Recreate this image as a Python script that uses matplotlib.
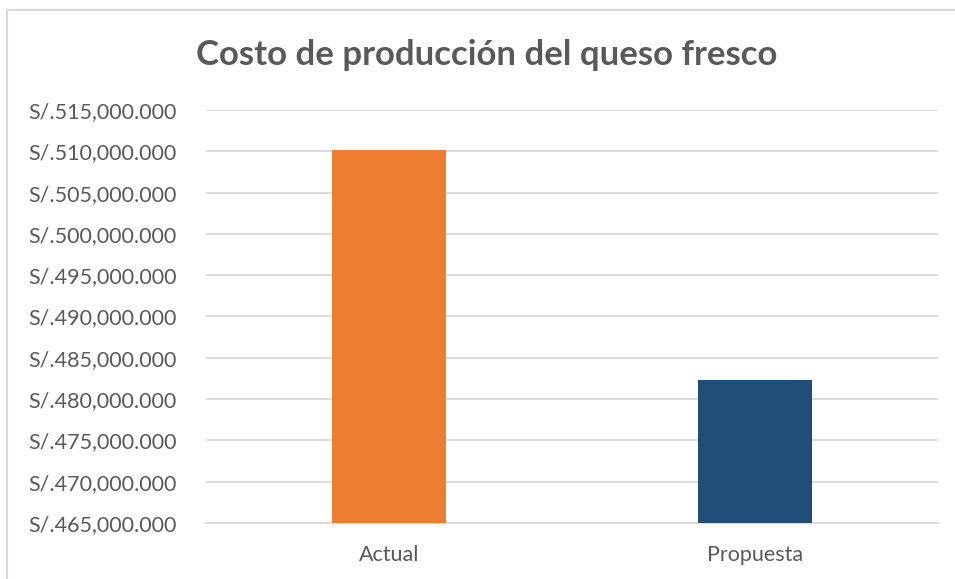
import matplotlib
matplotlib.use('Agg')
import matplotlib.pyplot as plt
from matplotlib.lines import Line2D
from matplotlib.ticker import FuncFormatter, MultipleLocator

# ---------------------------
# Data
# ---------------------------
categories = ['Actual', 'Propuesta']
costs = [510120, 482340]
bar_colors = ['#ED7D31', '#1F4E79']

y_min, y_max, y_step = 465000, 515000, 5000

plt.rcParams['font.family'] = ['Lato', 'DejaVu Sans']
text_color = '#595959'
grid_color = '#D9D9D9'

fig = plt.figure(figsize=(9.55, 5.79), dpi=100)
W, H = 955, 579
ax = fig.add_axes([206 / W, 1 - 523 / H, (938 - 206) / W, (523 - 110) / H])

ax.bar(range(len(categories)), costs, width=0.314, color=bar_colors, zorder=3)

ax.set_xlim(-0.5, len(categories) - 0.5)
ax.set_ylim(y_min, y_max)
ax.yaxis.set_major_locator(MultipleLocator(y_step))
ax.yaxis.set_major_formatter(FuncFormatter(lambda v, _: f"S/.{v:,.0f}.000"))

ax.set_xticks(range(len(categories)))
ax.set_xticklabels(categories)
ax.tick_params(axis='both', length=0, colors=text_color, labelsize=15.5)
ax.tick_params(axis='y', pad=21)
ax.tick_params(axis='x', pad=16)

ax.grid(axis='y', color=grid_color, linewidth=1.3, zorder=0)
for side in ['top', 'right', 'left']:
    ax.spines[side].set_visible(False)
ax.spines['bottom'].set_color(grid_color)
ax.spines['bottom'].set_linewidth(1.3)

fig.text(0.5 * (197 + 776) / W, 1 - 55 / H, 'Costo de producción del queso fresco',
         ha='center', va='center', fontsize=25, fontweight='bold', color=text_color)

# thin frame around the chart area (top and left edges)
fig.add_artist(Line2D([7 / W, 1], [1 - 10 / H, 1 - 10 / H], transform=fig.transFigure,
                      color=grid_color, linewidth=1.5))
fig.add_artist(Line2D([7 / W, 7 / W], [0, 1 - 10 / H], transform=fig.transFigure,
                      color=grid_color, linewidth=1.5))

fig.savefig('out.png', dpi=100)
